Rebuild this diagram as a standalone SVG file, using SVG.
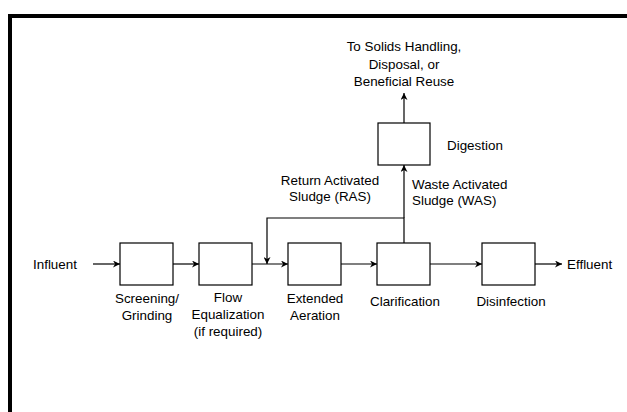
<svg xmlns="http://www.w3.org/2000/svg" width="627" height="412" viewBox="0 0 627 412">
<style>
text{font-family:"Liberation Sans",Arial,sans-serif;font-size:13.4px;fill:#000}
.c{text-anchor:middle}
.box{fill:#fff;stroke:#000;stroke-width:1.2}
.ln{fill:none;stroke:#000;stroke-width:1.2}
</style>
<defs>
<marker id="ah" viewBox="0 0 10 10" refX="10" refY="5" markerWidth="7" markerHeight="7" markerUnits="userSpaceOnUse" orient="auto">
<path d="M0,0 L10,5 L0,10 L3,5 Z" fill="#000"/>
</marker>
</defs>
<rect width="627" height="412" fill="#fff"/>
<g id="frame">
<path d="M10,412 V16 H627" fill="none" stroke="#000" stroke-width="4"/>
</g>
<g id="connectors">
<line class="ln" x1="93" y1="264" x2="120" y2="264" marker-end="url(#ah)"/>
<line class="ln" x1="173" y1="264" x2="199" y2="264" marker-end="url(#ah)"/>
<line class="ln" x1="252" y1="264" x2="288" y2="264" marker-end="url(#ah)"/>
<line class="ln" x1="341" y1="264" x2="377" y2="264" marker-end="url(#ah)"/>
<line class="ln" x1="430" y1="264" x2="482" y2="264" marker-end="url(#ah)"/>
<line class="ln" x1="535" y1="264" x2="562" y2="264" marker-end="url(#ah)"/>
<polyline class="ln" points="404,243 404,218 267,218 267,264" marker-end="url(#ah)"/>
<line class="ln" x1="404" y1="218" x2="404" y2="165" marker-end="url(#ah)"/>
<line class="ln" x1="404" y1="123" x2="404" y2="93" marker-end="url(#ah)"/>
</g>
<g id="influent"><text x="33" y="269">Influent</text></g>
<g id="screening">
<rect class="box" x="120" y="243" width="53" height="42"/>
<text class="c" x="147" y="303">Screening/</text>
<text class="c" x="147" y="320">Grinding</text>
</g>
<g id="flow-eq">
<rect class="box" x="199" y="243" width="53" height="42"/>
<text class="c" x="228" y="302">Flow</text>
<text class="c" x="228" y="319">Equalization</text>
<text class="c" x="228" y="336">(if required)</text>
</g>
<g id="aeration">
<rect class="box" x="288" y="243" width="53" height="42"/>
<text class="c" x="315" y="303">Extended</text>
<text class="c" x="315" y="320">Aeration</text>
</g>
<g id="clarification">
<rect class="box" x="377" y="243" width="53" height="42"/>
<text class="c" x="405" y="306">Clarification</text>
</g>
<g id="disinfection">
<rect class="box" x="482" y="243" width="53" height="42"/>
<text class="c" x="511" y="306">Disinfection</text>
</g>
<g id="effluent"><text x="567" y="269">Effluent</text></g>
<g id="digestion">
<rect class="box" x="378" y="123" width="52" height="42"/>
<text x="447" y="150">Digestion</text>
</g>
<g id="solids">
<text class="c" x="404" y="51">To Solids Handling,</text>
<text class="c" x="404" y="69">Disposal, or</text>
<text class="c" x="404" y="86">Beneficial Reuse</text>
</g>
<g id="ras-label">
<text class="c" x="330" y="185">Return Activated</text>
<text class="c" x="330" y="201">Sludge (RAS)</text>
</g>
<g id="was-label">
<text x="412" y="189">Waste Activated</text>
<text x="412" y="205">Sludge (WAS)</text>
</g>
</svg>
